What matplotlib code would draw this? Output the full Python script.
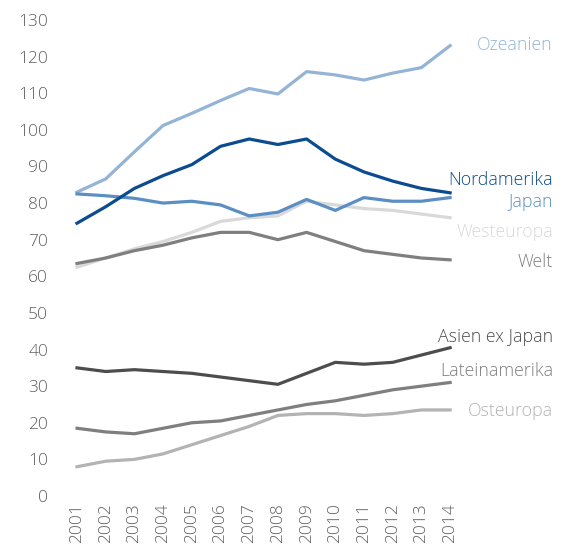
import matplotlib.pyplot as plt
import numpy as np

years = list(range(2001, 2015))

ozeanien = [83, 86.6, 94, 101.2, 104.5, 108, 111.3, 109.8, 115.9, 115, 113.6, 115.5, 117, 123]
nordamerika = [74.5, 79, 84, 87.5, 90.5, 95.5, 97.5, 96, 97.5, 92, 88.5, 86, 84, 82.8]
japan = [82.5, 82, 81.3, 80, 80.5, 79.5, 76.5, 77.5, 81, 78, 81.5, 80.5, 80.5, 81.5]
westeuropa = [62.5, 65, 67.5, 69.5, 72, 75, 76, 76.5, 80.5, 79.5, 78.5, 78, 77, 76]
welt = [63.5, 65, 67, 68.5, 70.5, 72, 72, 70, 72, 69.5, 67, 66, 65, 64.5]
asien = [35, 34, 34.5, 34, 33.5, 32.5, 31.5, 30.5, 33.5, 36.5, 36, 36.5, 38.5, 40.5]
lateinamerika = [18.5, 17.5, 17, 18.5, 20, 20.5, 22, 23.5, 25, 26, 27.5, 29, 30, 31]
osteuropa = [8, 9.5, 10, 11.5, 14, 16.5, 19, 22, 22.5, 22.5, 22, 22.5, 23.5, 23.5]

series = [
    ("Westeuropa", westeuropa, "#d9d9d9", 232),
    ("Osteuropa", osteuropa, "#b3b3b3", 411),
    ("Ozeanien", ozeanien, "#94b4d6", 45),
    ("Lateinamerika", lateinamerika, "#7f7f7f", 371),
    ("Welt", welt, "#7f7f7f", 262),
    ("Japan", japan, "#5b8fc4", 202),
    ("Asien ex Japan", asien, "#4d4d4d", 337),
    ("Nordamerika", nordamerika, "#0b4b8f", 180),
]

W, H = 563, 545
fig = plt.figure(figsize=(W / 100, H / 100), dpi=100)
ax = fig.add_axes([62 / W, (H - 496) / H, (553 - 62) / W, (496 - 20) / H])

x0 = 2001 - 15 / 28.7
x1 = 2001 + (553 - 77) / 28.7
for name, vals, color, ypix in series:
    ax.plot(years, vals, color=color, lw=2.3, solid_joinstyle="round")
    ax.text(x1, 130 * (496 - ypix) / 476, name, color=color, ha="right",
            va="center", fontsize=12.8, family="Open Sans", weight="light",
            clip_on=False)

ax.set_xlim(x0, x1)
ax.set_ylim(0, 130)
ax.set_yticks(range(0, 131, 10))
ax.set_xticks(years)
ax.set_xticklabels([str(y) for y in years], rotation=90)
for s in ax.spines.values():
    s.set_visible(False)
ax.tick_params(axis="y", length=0, pad=10, labelsize=12.5, labelcolor="#606060")
ax.tick_params(axis="x", length=0, pad=5, labelsize=12.5, labelcolor="#606060")
for lab in ax.get_xticklabels() + ax.get_yticklabels():
    lab.set_family("Open Sans")
    lab.set_weight("light")

fig.savefig("out.png", dpi=100)
